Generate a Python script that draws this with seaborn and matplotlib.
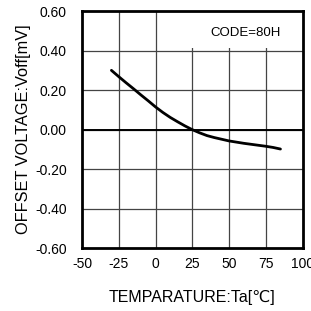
import numpy as np
import pandas as pd
import seaborn as sns
import matplotlib
matplotlib.use('Agg')
import matplotlib.pyplot as plt

############# Data ######################################
temperature = [-30, -25, -20, -15, -10, -5, 0, 5, 10, 15, 20, 25, 30, 35, 40, 50, 60, 70, 75, 80, 85]
offset_voltage = [0.30, 0.268, 0.237, 0.207, 0.176, 0.146, 0.115, 0.087, 0.062, 0.040, 0.019, 0.0,
                  -0.016, -0.030, -0.040, -0.057, -0.069, -0.079, -0.084, -0.090, -0.098]
x_ticks = [-50, -25, 0, 25, 50, 75, 100]
y_ticks = [-0.60, -0.40, -0.20, 0.00, 0.20, 0.40, 0.60]
code_label = 'CODE=80H'

df = pd.DataFrame({'Ta': temperature, 'Voff': offset_voltage})

############# Style ######################################
sns.set_theme(style='white')
plt.rcParams['font.family'] = ['Liberation Sans', 'DejaVu Sans']
plt.rcParams['axes.unicode_minus'] = False
plt.rcParams['text.color'] = 'black'
plt.rcParams['axes.labelcolor'] = 'black'
plt.rcParams['xtick.color'] = 'black'
plt.rcParams['ytick.color'] = 'black'

fig = plt.figure(figsize=(3.11, 3.11), dpi=100)
ax = fig.add_axes([0.2637, 0.2016, 0.709, 0.7630])

# grid
for xv in x_ticks[1:-1]:
    ax.axvline(xv, color='#444444', lw=0.9, zorder=1)
for yv in y_ticks[1:-1]:
    ax.axhline(yv, color='#444444', lw=0.9, zorder=1)
ax.axhline(0, color='black', lw=1.4, zorder=2)

# white box behind the code label
ax.fill_between([10, 100], 0.415, 0.6, color='white', zorder=3, lw=0)
ax.text(61, 0.49, code_label, ha='center', va='center', fontsize=9.5, zorder=4)

sns.lineplot(data=df, x='Ta', y='Voff', color='black', lw=2, ax=ax, zorder=5)

ax.set_xlim(-50, 100)
ax.set_ylim(-0.6, 0.6)
ax.set_xticks(x_ticks)
ax.set_yticks(y_ticks)
ax.set_yticklabels([f'{v:.2f}' for v in y_ticks])
ax.tick_params(axis='both', length=0, labelsize=10)
ax.tick_params(axis='x', pad=6)
ax.tick_params(axis='y', pad=11)

for s in ax.spines.values():
    s.set_color('black')
    s.set_linewidth(2)
    s.set_zorder(6)

ax.set_xlabel('TEMPARATURE:Ta[℃]', fontsize=11.5, labelpad=14)
ax.set_ylabel('OFFSET VOLTAGE:Voff[mV]', fontsize=11.8, labelpad=3)

plt.savefig('out.png', dpi=100)
